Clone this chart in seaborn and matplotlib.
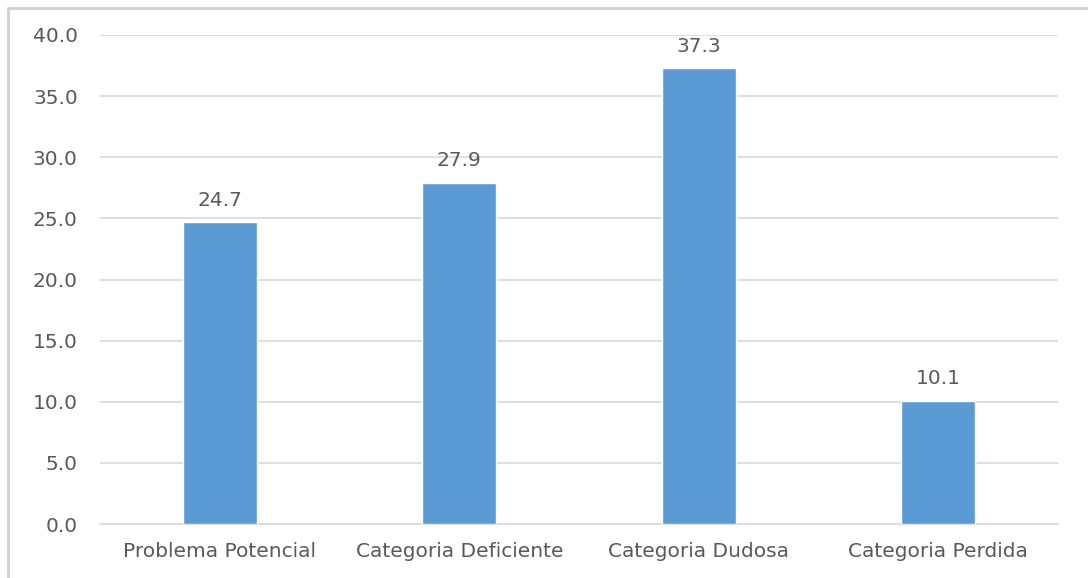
import matplotlib
matplotlib.use('Agg')
import matplotlib.pyplot as plt
import seaborn as sns
import pandas as pd
from matplotlib.lines import Line2D

# Data
categories = ["Problema Potencial", "Categoria Deficiente", "Categoria Dudosa", "Categoria Perdida"]
values = [24.7, 27.9, 37.3, 10.1]
y_ticks = [0, 5, 10, 15, 20, 25, 30, 35, 40]

BAR_COLOR = "#5B9BD5"
TEXT_COLOR = "#595959"
GRID_COLOR = "#D9D9D9"
FONT_SIZE = 14.5

sns.set_theme(style="white")
plt.rcParams['font.family'] = ['DejaVu Sans']

df = pd.DataFrame({"categoria": categories, "valor": values})

fig = plt.figure(figsize=(10.88, 5.78), dpi=100)
ax = fig.add_axes([100 / 1088, 1 - 524 / 578, 958 / 1088, 489 / 578])

sns.barplot(data=df, x="categoria", y="valor", color=BAR_COLOR, width=0.31,
            saturation=1, ax=ax, zorder=3)

ax.set_ylim(0, 40)
ax.set_xlim(-0.5, len(categories) - 0.5)
ax.set_yticks(y_ticks)
ax.set_yticklabels([f"{t:.1f}" for t in y_ticks])
ax.yaxis.grid(True, color=GRID_COLOR, linewidth=1.2, zorder=0)
ax.set_axisbelow(True)
for side in ["left", "right", "top"]:
    ax.spines[side].set_visible(False)
ax.spines["bottom"].set_color(GRID_COLOR)
ax.spines["bottom"].set_linewidth(1.2)
ax.tick_params(axis="both", length=0, labelsize=FONT_SIZE, labelcolor=TEXT_COLOR)
ax.tick_params(axis="y", pad=16)
ax.tick_params(axis="x", pad=13)
ax.set_xlabel("")
ax.set_ylabel("")

# value labels above bars
for container in ax.containers:
    ax.bar_label(container, fmt="%.1f", padding=9, fontsize=FONT_SIZE, color=TEXT_COLOR)

# light outer frame (top and left edges)
fig.add_artist(Line2D([8 / 1088, 1], [1 - 8 / 578, 1 - 8 / 578], transform=fig.transFigure,
                      color="#D0D0D0", linewidth=2))
fig.add_artist(Line2D([8 / 1088, 8 / 1088], [0, 1 - 8 / 578], transform=fig.transFigure,
                      color="#D0D0D0", linewidth=2))

fig.savefig("out.png", dpi=100, facecolor="white")
